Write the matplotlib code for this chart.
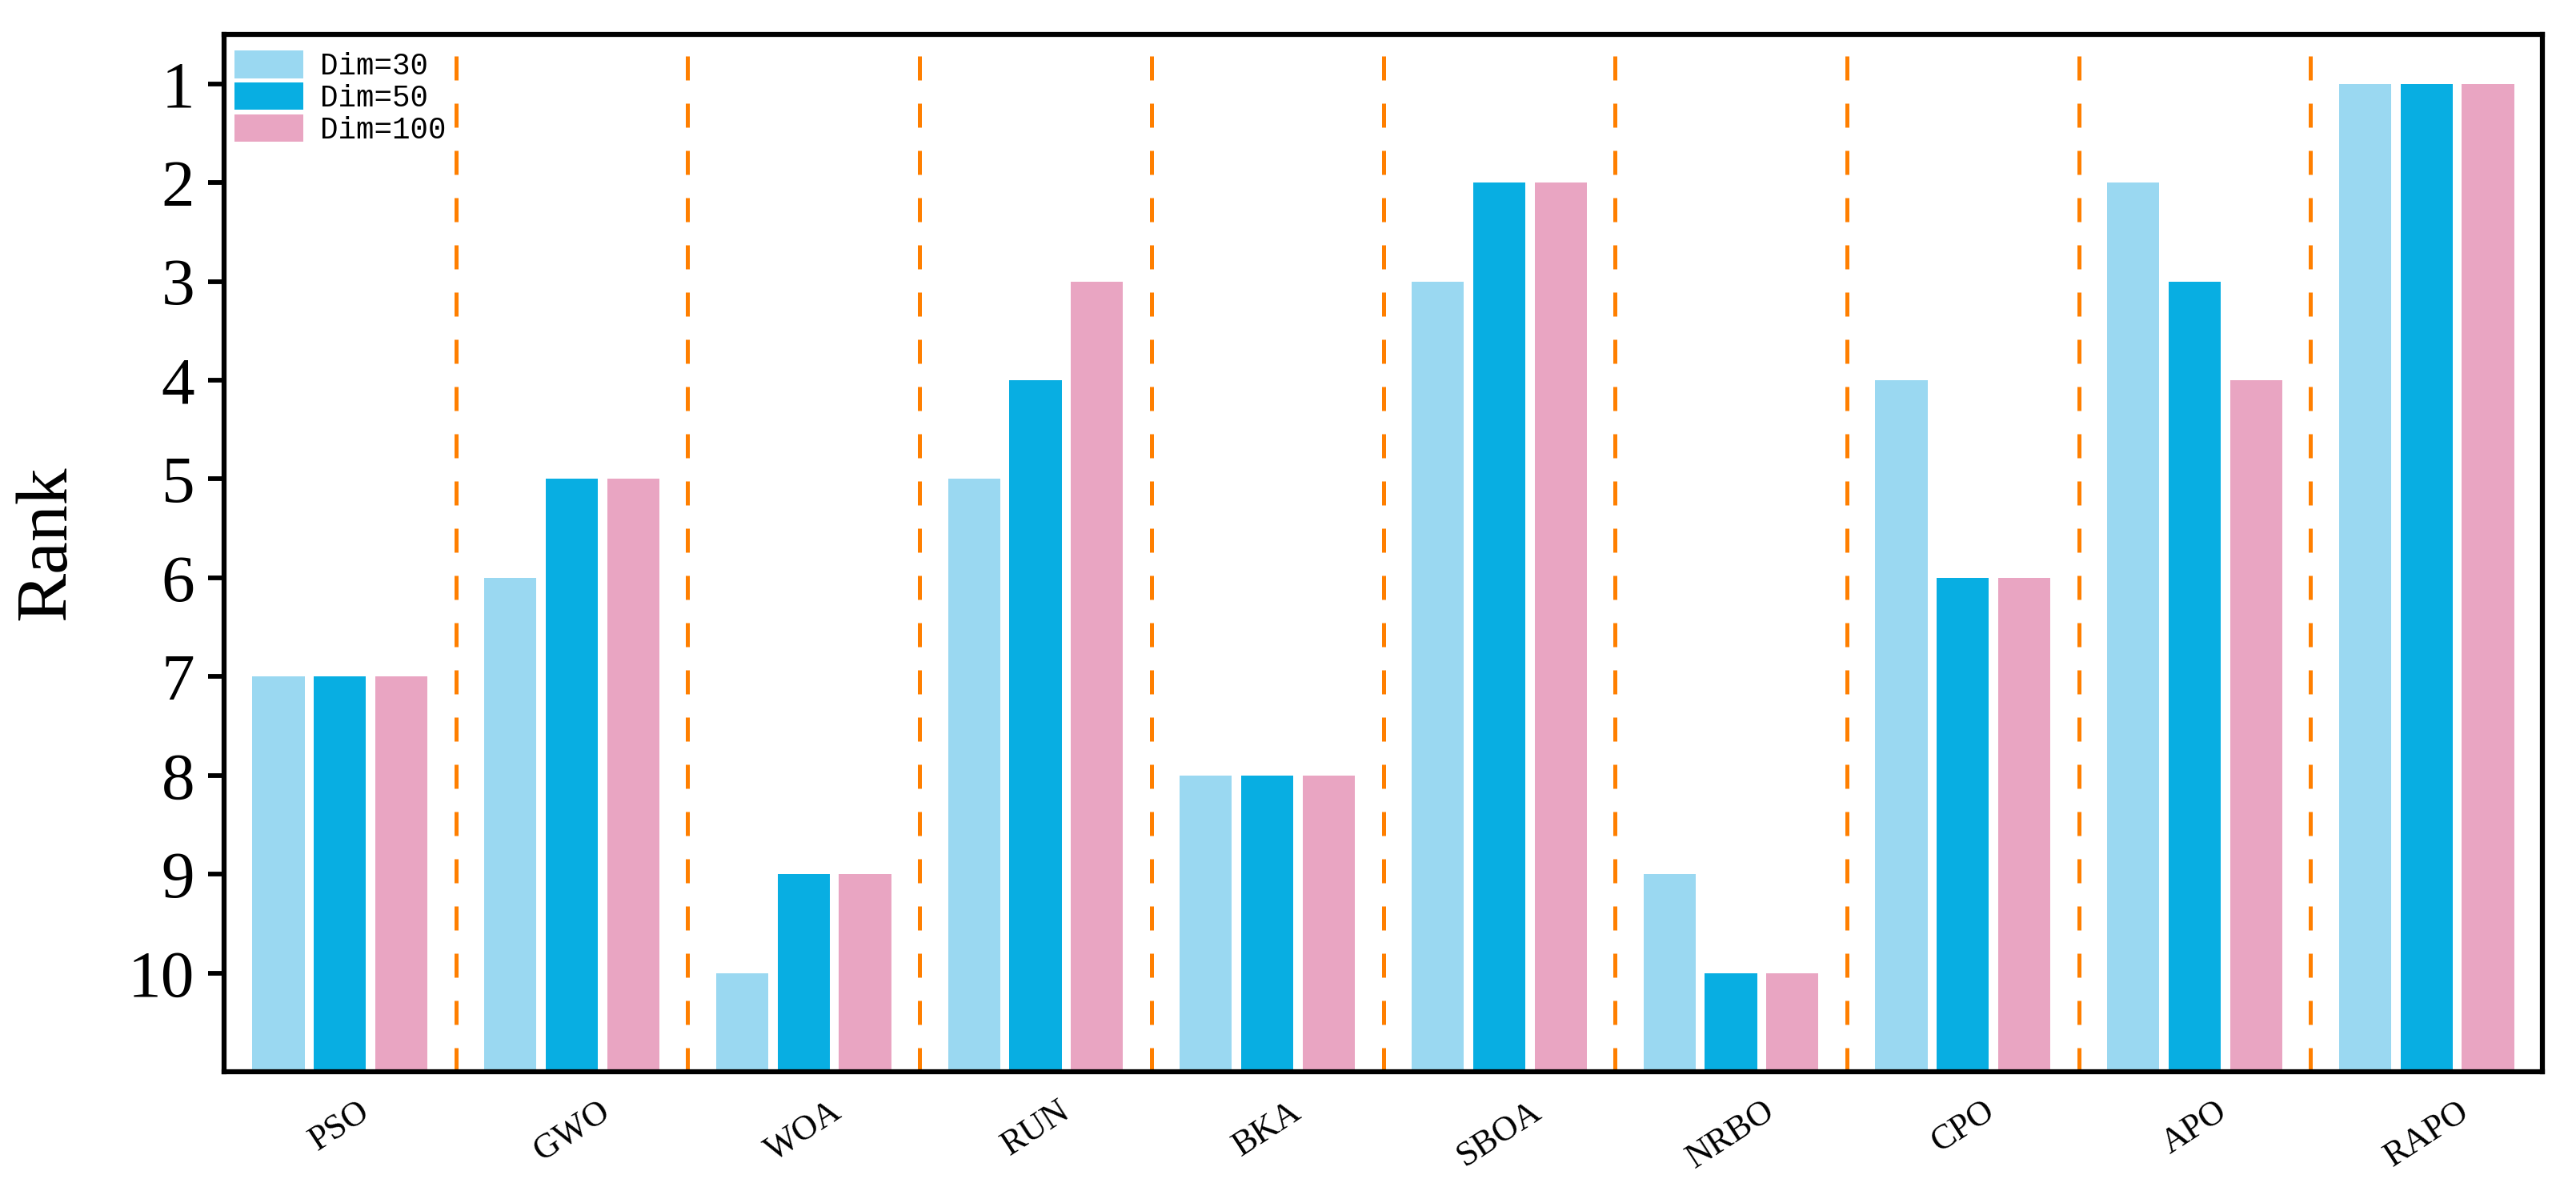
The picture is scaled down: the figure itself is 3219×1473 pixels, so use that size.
import matplotlib
matplotlib.use("Agg")
import matplotlib.pyplot as plt
import numpy as np

algorithms = ["PSO", "GWO", "WOA", "RUN", "BKA", "SBOA", "NRBO", "CPO", "APO", "RAPO"]
rank_dim30 = [7, 6, 10, 5, 8, 3, 9, 4, 2, 1]
rank_dim50 = [7, 5, 9, 4, 8, 2, 10, 6, 3, 1]
rank_dim100 = [7, 5, 9, 3, 8, 2, 10, 6, 4, 1]
series_labels = ["Dim=30", "Dim=50", "Dim=100"]
y_ticks = [1, 2, 3, 4, 5, 6, 7, 8, 9, 10]

colors = ["#9AD8F1", "#08AEE2", "#E9A5C2"]
baseline = 11

fig = plt.figure(figsize=(3219 / 300, 1473 / 300), dpi=300)
ax = fig.add_axes([280 / 3219, 1 - 1339 / 1473, (3177 - 280) / 3219, (1339 - 43) / 1473])

x = np.arange(len(algorithms))
offset = 0.265
width = 0.225
for i, (vals, lab, col) in enumerate(zip([rank_dim30, rank_dim50, rank_dim100], series_labels, colors)):
    vals = np.array(vals, dtype=float)
    ax.bar(x + (i - 1) * offset, vals - baseline, bottom=baseline, width=width,
           color=col, label=lab, linewidth=0)

for xv in x[:-1] + 0.5:
    ax.axvline(xv, color="#FF7F00", linewidth=1.2, linestyle=(0, (6, 5.8)), zorder=0)

ax.set_xlim(-0.5, len(algorithms) - 0.5)
ax.set_ylim(baseline, 0.5)
ax.set_yticks(y_ticks)
ax.set_yticklabels([str(t) for t in y_ticks], fontfamily="Liberation Serif", fontsize=20)
ax.set_xticks(x)
ax.set_xticklabels(algorithms, fontfamily="Liberation Serif", fontsize=10.5, rotation=33,
                   ha="center")
ax.tick_params(axis="x", length=0, pad=7)
ax.tick_params(axis="y", direction="out", length=4.8, width=1.4, pad=4)

for sp in ax.spines.values():
    sp.set_linewidth(1.5)
    sp.set_color("black")

ax.set_ylabel("Rank", fontfamily="Liberation Serif", fontsize=22)
ax.yaxis.set_label_coords(-0.062, 0.51)

leg = ax.legend(loc="upper left", bbox_to_anchor=(13 / 2897, 1 - 20 / 1296),
                frameon=False, prop={"family": "Liberation Mono", "size": 9},
                handlelength=2.3, handleheight=1.04, labelspacing=0.05,
                handletextpad=0.56, borderpad=0, borderaxespad=0)

fig.savefig("out.png", dpi=300)
